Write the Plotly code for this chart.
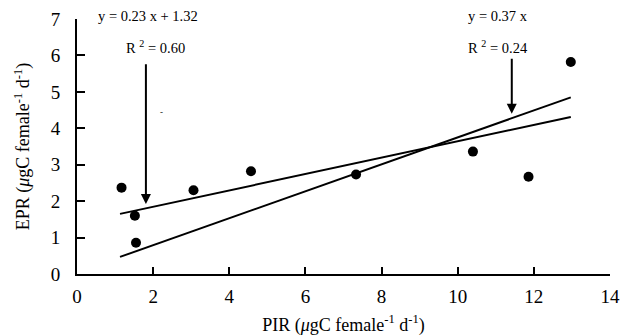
import plotly.graph_objects as go

pir = [1.17, 1.52, 1.55, 3.06, 4.57, 7.33, 10.40, 11.86, 12.97]
epr = [2.37, 1.60, 0.86, 2.30, 2.82, 2.73, 3.36, 2.67, 5.82]

fit1_x = [1.13, 12.97]
fit1_y = [1.65, 4.31]
fit2_x = [1.13, 12.97]
fit2_y = [0.47, 4.85]

xticks = [0, 2, 4, 6, 8, 10, 12, 14]
yticks = [0, 1, 2, 3, 4, 5, 6, 7]

font_family = "Liberation Serif, Times New Roman, serif"

fig = go.Figure()
fig.add_trace(go.Scatter(x=fit1_x, y=fit1_y, mode="lines",
                         line=dict(color="black", width=2), showlegend=False))
fig.add_trace(go.Scatter(x=fit2_x, y=fit2_y, mode="lines",
                         line=dict(color="black", width=2), showlegend=False))
fig.add_trace(go.Scatter(x=pir, y=epr, mode="markers",
                         marker=dict(color="black", size=10), showlegend=False))

# arrows
fig.add_annotation(x=1.81, y=1.92, ax=1.81, ay=5.80, xref="x", yref="y",
                   axref="x", ayref="y", showarrow=True, arrowhead=2,
                   arrowsize=1, arrowwidth=2, arrowcolor="black", text="")
fig.add_annotation(x=11.42, y=4.40, ax=11.42, ay=5.95, xref="x", yref="y",
                   axref="x", ayref="y", showarrow=True, arrowhead=2,
                   arrowsize=1, arrowwidth=2, arrowcolor="black", text="")

# equations (placed in pixel positions, converted below)
tf = dict(family=font_family, size=14.5, color="black")
fig.add_annotation(x=148, y=16, text="y = 0.23 x + 1.32", showarrow=False, font=tf)
fig.add_annotation(x=155, y=47, text="R <sup>2</sup> = 0.60", showarrow=False, font=tf)
fig.add_annotation(x=498, y=16, text="y = 0.37 x", showarrow=False, font=tf)
fig.add_annotation(x=498, y=47, text="R <sup>2</sup> = 0.24", showarrow=False, font=tf)
fig.add_annotation(x=161, y=112, text="-", showarrow=False,
                   font=dict(family=font_family, size=9, color="black"))

L, R, T, B = 77, 10, 19, 62
W, H = 620, 336
pw, ph = W - L - R, H - T - B
for a in fig.layout.annotations[2:]:
    px, py = a.x, a.y
    a.xref = "paper"
    a.yref = "paper"
    a.x = (px - L) / pw
    a.y = (H - B - py) / ph
    a.xanchor = "center"
    a.yanchor = "middle"

fig.update_layout(
    width=W, height=H,
    margin=dict(l=L, r=R, t=T, b=B, autoexpand=False),
    paper_bgcolor="white", plot_bgcolor="white",
    font=dict(family=font_family, size=19, color="black"),
    xaxis=dict(range=[0, 14], tickvals=xticks, ticks="inside", ticklen=7,
               tickwidth=2, tickcolor="black", showline=True, linecolor="black",
               linewidth=2, showgrid=False, zeroline=False, automargin=False,
               tickfont=dict(family=font_family, size=19), ticklabelstandoff=4,
               title=dict(text="PIR (<i>μ</i>gC female<sup>-1</sup> d<sup>-1</sup>)",
                          font=dict(family=font_family, size=18), standoff=14)),
    yaxis=dict(range=[0, 7], tickvals=yticks, ticks="inside", ticklen=8,
               tickwidth=2, tickcolor="black", showline=True, linecolor="black",
               linewidth=2, showgrid=False, zeroline=False, automargin=False,
               tickfont=dict(family=font_family, size=19), ticklabelstandoff=11,
               title=dict(text="EPR (<i>μ</i>gC female<sup>-1</sup> d<sup>-1</sup>)",
                          font=dict(family=font_family, size=18), standoff=16)),
)

fig.write_html("out.html", config={"displayModeBar": False},
               post_script="document.body.style.margin='0';document.body.style.padding='0';")
